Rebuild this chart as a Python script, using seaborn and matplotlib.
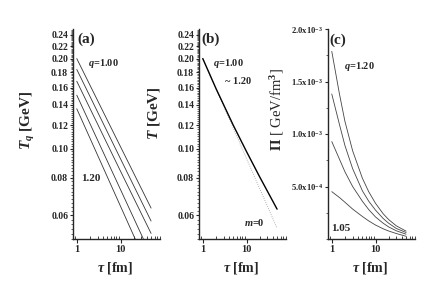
import numpy as np
import matplotlib
matplotlib.use('Agg')
import matplotlib.pyplot as plt
import matplotlib.ticker as mticker
import seaborn as sns

# panel (a): T_q vs tau for q = 1.00 ... 1.20 (straight on log-log)
tau_a = [1, 10, 50]
Tq_100 = [0.200, 0.1016, 0.0634]
Tq_105 = [0.184, 0.0926, 0.0574]
Tq_110 = [0.168, 0.0842, 0.0522]
Tq_115 = [0.151, 0.0731, 0.0440]
Tq_120 = [0.136, 0.0643, 0.0381]

# panel (b): T vs tau, q=1.00~1.20 (solid) and m=0 (dotted)
tau_b = [1, 2, 5, 10, 20, 50]
T_q = [0.200, 0.159, 0.1197, 0.0979, 0.0806, 0.0629]
tau_m0 = [1, 10, 50]
T_m0 = [0.200, 0.0928, 0.0543]

# panel (c): bulk pressure Pi (GeV/fm^3) vs tau
tau_c = [1, 1.5, 2, 3, 5, 7, 10, 15, 20, 30, 50]
Pi_120 = [1.787e-3, 1.38e-3, 1.12e-3, 0.84e-3, 0.58e-3, 0.45e-3, 0.34e-3, 0.24e-3, 0.185e-3, 0.125e-3, 0.075e-3]
Pi_115 = [1.381e-3, 1.09e-3, 0.89e-3, 0.67e-3, 0.46e-3, 0.36e-3, 0.275e-3, 0.195e-3, 0.15e-3, 0.10e-3, 0.062e-3]
Pi_110 = [0.928e-3, 0.76e-3, 0.64e-3, 0.50e-3, 0.36e-3, 0.28e-3, 0.21e-3, 0.15e-3, 0.115e-3, 0.078e-3, 0.046e-3]
Pi_105 = [0.451e-3, 0.395e-3, 0.35e-3, 0.285e-3, 0.215e-3, 0.172e-3, 0.133e-3, 0.097e-3, 0.076e-3, 0.052e-3, 0.026e-3]

T_ticks = [0.06, 0.08, 0.10, 0.12, 0.14, 0.16, 0.18, 0.20, 0.22, 0.24]
Pi_ticks = [5.0e-4, 1.0e-3, 1.5e-3, 2.0e-3]
Pi_ticklabels = [r'5.0x10$^{-4}$', r'1.0x10$^{-3}$', r'1.5x10$^{-3}$', r'2.0x10$^{-3}$']

sns.set_style('ticks')
plt.rcParams['font.family'] = ['Liberation Serif', 'DejaVu Serif']
plt.rcParams['font.weight'] = 'bold'
plt.rcParams['mathtext.fontset'] = 'custom'
plt.rcParams['mathtext.rm'] = 'Liberation Serif:bold'
plt.rcParams['mathtext.it'] = 'Liberation Serif:italic:bold'
plt.rcParams['mathtext.bf'] = 'Liberation Serif:bold'

fig = plt.figure(figsize=(4.36, 2.96), dpi=100)
W, H = 436, 296
lefts = [73, 199, 328]
axes = [fig.add_axes([l / W, (H - 239) / H, 87 / W, 210 / H]) for l in lefts]


def style_axis(ax):
    ax.set_xscale('log')
    ax.set_xlim(0.82, 80)
    ax.xaxis.set_major_locator(mticker.FixedLocator([1, 10]))
    ax.xaxis.set_major_formatter(mticker.FixedFormatter(['1', '10']))
    ax.xaxis.set_minor_locator(mticker.LogLocator(subs=np.arange(2, 10)))
    ax.xaxis.set_minor_formatter(mticker.NullFormatter())
    for side in ['top', 'right']:
        ax.spines[side].set_visible(False)
    for side in ['left', 'bottom']:
        ax.spines[side].set_linewidth(1.0)
    ax.tick_params(axis='x', which='major', direction='out', length=3, width=0.8, labelsize=7.5, pad=1.5)
    ax.tick_params(axis='x', which='minor', direction='in', length=2, width=0.6)
    ax.tick_params(axis='y', which='major', direction='out', length=2.5, width=0.8, labelsize=7, pad=1)
    ax.tick_params(axis='y', which='minor', direction='out', length=1.5, width=0.5)
    ax.set_xlabel(r'$\tau$ [fm]', fontsize=10, fontweight='bold')
    ax.xaxis.set_label_coords(0.483, -0.1)


def style_T(ax):
    ax.set_yscale('log')
    ax.set_ylim(0.05, 0.251)
    ax.yaxis.set_major_locator(mticker.FixedLocator(T_ticks))
    ax.yaxis.set_major_formatter(mticker.FixedFormatter(['%.2f' % t for t in T_ticks]))
    ax.yaxis.set_minor_locator(mticker.FixedLocator(np.arange(0.05, 0.251, 0.002)))
    ax.yaxis.set_minor_formatter(mticker.NullFormatter())


# (a)
ax = axes[0]
style_axis(ax)
style_T(ax)
for T in [Tq_100, Tq_105, Tq_110, Tq_115, Tq_120]:
    sns.lineplot(x=tau_a, y=T, ax=ax, color='#333333', lw=0.6, estimator=None)
ax.set_ylabel(r'$T_q$ [GeV]', fontsize=11, fontweight='bold')
ax.yaxis.set_label_coords(-0.41, 0.567)
ax.text(0.05, 0.952, '(a)', transform=ax.transAxes, fontsize=11, va='center')
ax.text(0.17, 0.838, r'$q$=1.00', transform=ax.transAxes, fontsize=7.5, va='center')
ax.text(0.09, 0.29, '1.20', transform=ax.transAxes, fontsize=8, va='center')

# (b)
ax = axes[1]
style_axis(ax)
style_T(ax)
sns.lineplot(x=tau_m0, y=T_m0, ax=ax, color='#999999', lw=0.6, ls=':', estimator=None)
sns.lineplot(x=tau_b, y=T_q, ax=ax, color='black', lw=1.0, estimator=None)
ax.set_ylabel(r'$T$ [GeV]', fontsize=11, fontweight='bold')
ax.yaxis.set_label_coords(-0.425, 0.6)
ax.text(0.03, 0.952, '(b)', transform=ax.transAxes, fontsize=11, va='center')
ax.text(0.165, 0.838, r'$q$=1.00', transform=ax.transAxes, fontsize=7.5, va='center')
ax.text(0.30, 0.752, '~ 1.20', transform=ax.transAxes, fontsize=7.5, va='center')
ax.text(0.52, 0.08, r'$m$=0', transform=ax.transAxes, fontsize=7.5, va='center')

# (c)
ax = axes[2]
style_axis(ax)
ax.set_ylim(0, 2.0e-3)
ax.yaxis.set_major_locator(mticker.FixedLocator(Pi_ticks))
ax.yaxis.set_major_formatter(mticker.FixedFormatter(Pi_ticklabels))
ax.yaxis.set_minor_locator(mticker.MultipleLocator(2.5e-4))
ax.tick_params(axis='y', which='major', labelsize=6.2)
for Pi in [Pi_120, Pi_115, Pi_110, Pi_105]:
    sns.lineplot(x=tau_c, y=Pi, ax=ax, color='#444444', lw=0.6, estimator=None)
ax.set_ylabel(r'$\Pi$ [ GeV/fm$^3$]', fontsize=10.5, fontweight='normal')
ax.yaxis.set_label_coords(-0.48, 0.614)
ax.text(0.02, 0.948, '(c)', transform=ax.transAxes, fontsize=11, va='center')
ax.text(0.184, 0.82, r'$q$=1.20', transform=ax.transAxes, fontsize=7.5, va='center')
ax.text(0.035, 0.051, '1.05', transform=ax.transAxes, fontsize=8, va='center')

fig.savefig('out.png', dpi=100)
